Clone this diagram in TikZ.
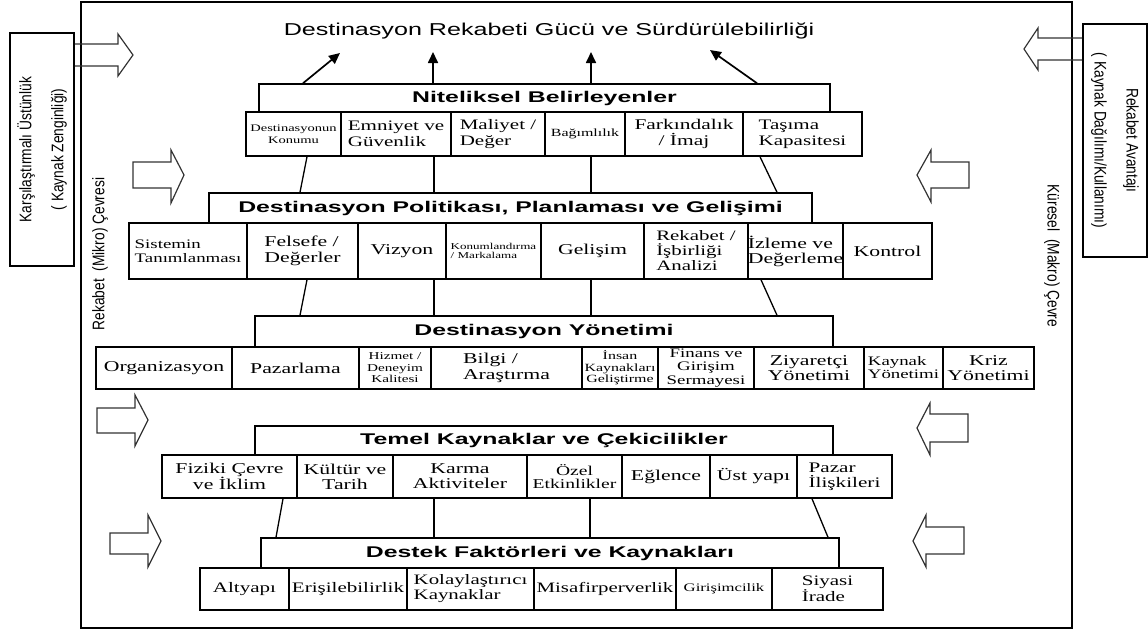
\documentclass[tikz,border=0pt]{standalone}
\usepackage{fontspec}
\setmainfont{Liberation Serif}
\newfontfamily\boxserif[FakeStretch=1.45]{Liberation Serif}
\newfontfamily\headsans[FakeStretch=1.6]{Liberation Sans}
\newfontfamily\titlesans[FakeStretch=1.46]{Liberation Sans}
\newfontfamily\sidesans[FakeStretch=0.82]{Liberation Sans}
\usetikzlibrary{arrows.meta}
\newcommand\fsz[2]{\fontsize{#1}{#2}\selectfont}
% \dcell{name}{x1}{x2}{y1}{y2}{size}{align}{text}
\newcommand\dcell[8]{\node[cell,align=#7,font=\boxserif#6,minimum width={#3-#2},minimum height={#5-#4}] (#1) at ({(#2+#3)/2},{(#4+#5)/2}) {#8};}
\tikzset{
  cell/.style={draw, line width=1.5pt, inner sep=0pt, text=black},
  head/.style={draw, line width=1.5pt, inner sep=0pt, font=\headsans\bfseries\fsz{15.5}{18}},
  sidebox/.style={draw, line width=1.8pt, inner sep=0pt, align=center, font=\sidesans\fsz{16.8}{32}},
  sidelabel/.style={font=\sidesans\fsz{16.8}{20}, inner sep=0pt},
  layerlink/.style={line width=1.3pt},
  risearrow/.style={line width=1.7pt, -{Triangle[length=11pt,width=10pt]}},
  blockarrow/.style={draw=black!80, line width=1.2pt, line join=miter},
}
\begin{document}
\begin{tikzpicture}[x=1pt,y=-1pt]
\useasboundingbox (0,0) rectangle (1148,632);

% outer frame
\draw[line width=2pt] (81,2) rectangle (1072,628);

% side boxes
\node[sidebox, rotate=90, minimum width=233, minimum height=64] (lbox) at (42,149.5)
  {Karşılaştırmalı Üstünlük\\( Kaynak Zenginliği)};
\node[sidebox, rotate=-90, minimum width=233, minimum height=64] (rbox) at (1115,140.5)
  {Rekabet Avantajı\\( Kaynak Dağılımı/Kullanımı)};

% environment labels
\node[sidelabel, rotate=90] (mikro) at (100,254) {Rekabet \ (Mikro) Çevresi};
\node[sidelabel, rotate=-90] (makro) at (1052,256) {Küresel \ (Makro) Çevre};

% title
\node[font=\titlesans\fsz{17.2}{20}, inner sep=0pt] (title) at (549,31)
  {Destinasyon Rekabeti Gücü ve Sürdürülebilirliği};

% headers
\node[head, minimum width=571, minimum height=28] (nit) at (544.5,98) {Niteliksel Belirleyenler};
\node[head, minimum width=603, minimum height=30] (pol) at (510.5,208) {Destinasyon Politikası, Planlaması ve Gelişimi};
\node[head, minimum width=578, minimum height=31] (yon) at (544,331.5) {Destinasyon Yönetimi};
\node[head, minimum width=578, minimum height=29] (temel) at (544,440.5) {Temel Kaynaklar ve Çekicilikler};
\node[head, minimum width=578, minimum height=30] (destek) at (550,553) {Destek Faktörleri ve Kaynakları};

% qualitative determinants
\dcell{konum}{246}{341}{112}{156}{\fsz{10}{11.5}}{center}{Destinasyonun\\Konumu}
\dcell{emniyet}{341}{451}{112}{156}{\fsz{14.5}{16}}{left}{Emniyet ve\\Güvenlik}
\dcell{maliyet}{451}{545}{112}{156}{\fsz{14.5}{16}}{left}{Maliyet /\\Değer}
\dcell{bagimlilik}{545}{625}{112}{156}{\fsz{11}{12}}{center}{Bağımlılık}
\dcell{farkindalik}{625}{743}{112}{156}{\fsz{14.8}{16}}{center}{Farkındalık\\/ İmaj}
\dcell{tasima}{743}{862}{112}{156}{\fsz{14.5}{16}}{left}{Taşıma\\Kapasitesi}

% policy, planning and development
\dcell{sistem}{129}{247}{223}{279}{\fsz{13}{14}}{left}{Sistemin\\Tanımlanması}
\dcell{felsefe}{247}{358}{223}{279}{\fsz{15}{16}}{left}{Felsefe /\\Değerler}
\dcell{vizyon}{358}{446}{223}{279}{\fsz{15}{16}}{center}{Vizyon}
\dcell{konumland}{446}{541}{223}{279}{\fsz{9}{9.5}}{left}{Konumlandırma\\/ Markalama}
\dcell{gelisim}{541}{644}{223}{279}{\fsz{15}{16}}{center}{Gelişim}
\dcell{rekabet}{644}{748}{223}{279}{\fsz{14.4}{15}}{left}{Rekabet /\\İşbirliği\\Analizi}
\dcell{izleme}{748}{843}{223}{279}{\fsz{15}{15}}{left}{İzleme ve\\Değerleme}
\dcell{kontrol}{843}{932}{223}{279}{\fsz{15}{16}}{center}{Kontrol}

% destination management
\dcell{org}{96}{232}{347}{389}{\fsz{15}{16}}{center}{Organizasyon}
\dcell{pazarlama}{232}{359}{347}{389}{\fsz{15}{16}}{center}{Pazarlama}
\dcell{hizmet}{359}{431}{347}{389}{\fsz{10.5}{11.5}}{center}{Hizmet /\\Deneyim\\Kalitesi}
\dcell{bilgi}{431}{582}{347}{389}{\fsz{15}{16}}{left}{Bilgi /\\Araştırma}
\dcell{insan}{582}{658}{347}{389}{\fsz{11}{11.5}}{center}{İnsan\\Kaynakları\\Geliştirme}
\dcell{finans}{658}{754}{347}{389}{\fsz{13}{13.3}}{center}{Finans ve\\Girişim\\Sermayesi}
\dcell{ziyaretci}{754}{864}{347}{389}{\fsz{15}{15}}{center}{Ziyaretçi\\Yönetimi}
\dcell{kaynak}{864}{943}{347}{389}{\fsz{13}{13}}{left}{Kaynak\\Yönetimi}
\dcell{kriz}{943}{1034}{347}{389}{\fsz{15}{15}}{center}{Kriz\\Yönetimi}

% core resources and attractors
\dcell{fiziki}{162}{297}{455}{498}{\fsz{15}{15}}{center}{Fiziki Çevre\\ve İklim}
\dcell{kultur}{297}{393}{455}{498}{\fsz{15}{15}}{center}{Kültür ve\\Tarih}
\dcell{karma}{393}{527}{455}{498}{\fsz{15}{15}}{center}{Karma\\Aktiviteler}
\dcell{ozel}{527}{622}{455}{498}{\fsz{13.5}{13}}{center}{Özel\\Etkinlikler}
\dcell{eglence}{622}{710}{455}{498}{\fsz{15}{16}}{center}{Eğlence}
\dcell{ustyapi}{710}{797}{455}{498}{\fsz{15}{16}}{center}{Üst yapı}
\dcell{pazar}{797}{892}{455}{498}{\fsz{14.6}{15}}{left}{Pazar\\İlişkileri}

% supporting factors and resources
\dcell{altyapi}{200}{289}{568}{610}{\fsz{14.5}{16}}{center}{Altyapı}
\dcell{erisim}{289}{407}{568}{610}{\fsz{14.5}{16}}{center}{Erişilebilirlik}
\dcell{kolay}{407}{534}{568}{610}{\fsz{14.4}{15}}{left}{Kolaylaştırıcı\\Kaynaklar}
\dcell{misafir}{534}{676}{568}{610}{\fsz{14.4}{16}}{center}{Misafirperverlik}
\dcell{girisim}{676}{772}{568}{610}{\fsz{11.5}{12}}{center}{Girişimcilik}
\dcell{siyasi}{772}{883}{568}{610}{\fsz{14.5}{15}}{left}{Siyasi\\İrade}

% arrows towards the title
\coordinate (tipA) at (340,53);
\coordinate (tipB) at (433,52);
\coordinate (tipC) at (591,52);
\coordinate (tipD) at (710,50);
\draw[risearrow] (nit.north -| 303,0) -- (tipA);
\draw[risearrow] (nit.north -| 433,0) -- (tipB);
\draw[risearrow] (nit.north -| 591,0) -- (tipC);
\draw[risearrow] (nit.north -| 757,0) -- (tipD);

% links between the layers
\draw[layerlink] (konum.south -| 307,0) -- (pol.north -| 300,0);
\draw[layerlink] (emniyet.south -| 434,0) -- (pol.north -| 434,0);
\draw[layerlink] (bagimlilik.south -| 591,0) -- (pol.north -| 591,0);
\draw[layerlink] (tasima.south -| 760,0) -- (pol.north -| 777,0);

\draw[layerlink] (felsefe.south -| 307,0) -- (yon.north -| 300,0);
\draw[layerlink] (vizyon.south -| 434,0) -- (yon.north -| 434,0);
\draw[layerlink] (gelisim.south -| 591,0) -- (yon.north -| 591,0);
\draw[layerlink] (izleme.south -| 761,0) -- (yon.north -| 777,0);

\draw[layerlink] (fiziki.south -| 283,0) -- (destek.north -| 276,0);
\draw[layerlink] (karma.south -| 434,0) -- (destek.north -| 434,0);
\draw[layerlink] (ozel.south -| 590,0) -- (destek.north -| 590,0);
\draw[layerlink] (pazar.south -| 812,0) -- (destek.north -| 828,0);

% open arrows leaving the side boxes
\draw[blockarrow] (lbox.south |- 0,44) -- (118,44) -- (118,34) -- (133,55) -- (118,76) -- (118,66) -- (lbox.south |- 0,66);
\draw[blockarrow] (rbox.south |- 0,38) -- (1038,38) -- (1038,28) -- (1024,49) -- (1038,70) -- (1038,60) -- (rbox.south |- 0,60);

% block arrows on the left (pointing inwards)
\draw[blockarrow] (133,162) -- (171,162) -- (171,150) -- (184,175) -- (171,203) -- (171,188) -- (133,188) -- cycle;
\draw[blockarrow] (97,408) -- (135,408) -- (135,395) -- (148,420) -- (135,446) -- (135,433) -- (97,433) -- cycle;
\draw[blockarrow] (110,533) -- (148,533) -- (148,515) -- (161,541) -- (148,567) -- (148,554) -- (110,554) -- cycle;

% block arrows on the right (pointing inwards)
\draw[blockarrow] (969,162) -- (931,162) -- (931,150) -- (917,175) -- (931,202) -- (931,188) -- (969,188) -- cycle;
\draw[blockarrow] (968,414) -- (930,414) -- (930,403) -- (917,428) -- (930,455) -- (930,442) -- (968,442) -- cycle;
\draw[blockarrow] (964,527) -- (926,527) -- (926,515) -- (913,541) -- (926,567) -- (926,554) -- (964,554) -- cycle;
\end{tikzpicture}
\end{document}
